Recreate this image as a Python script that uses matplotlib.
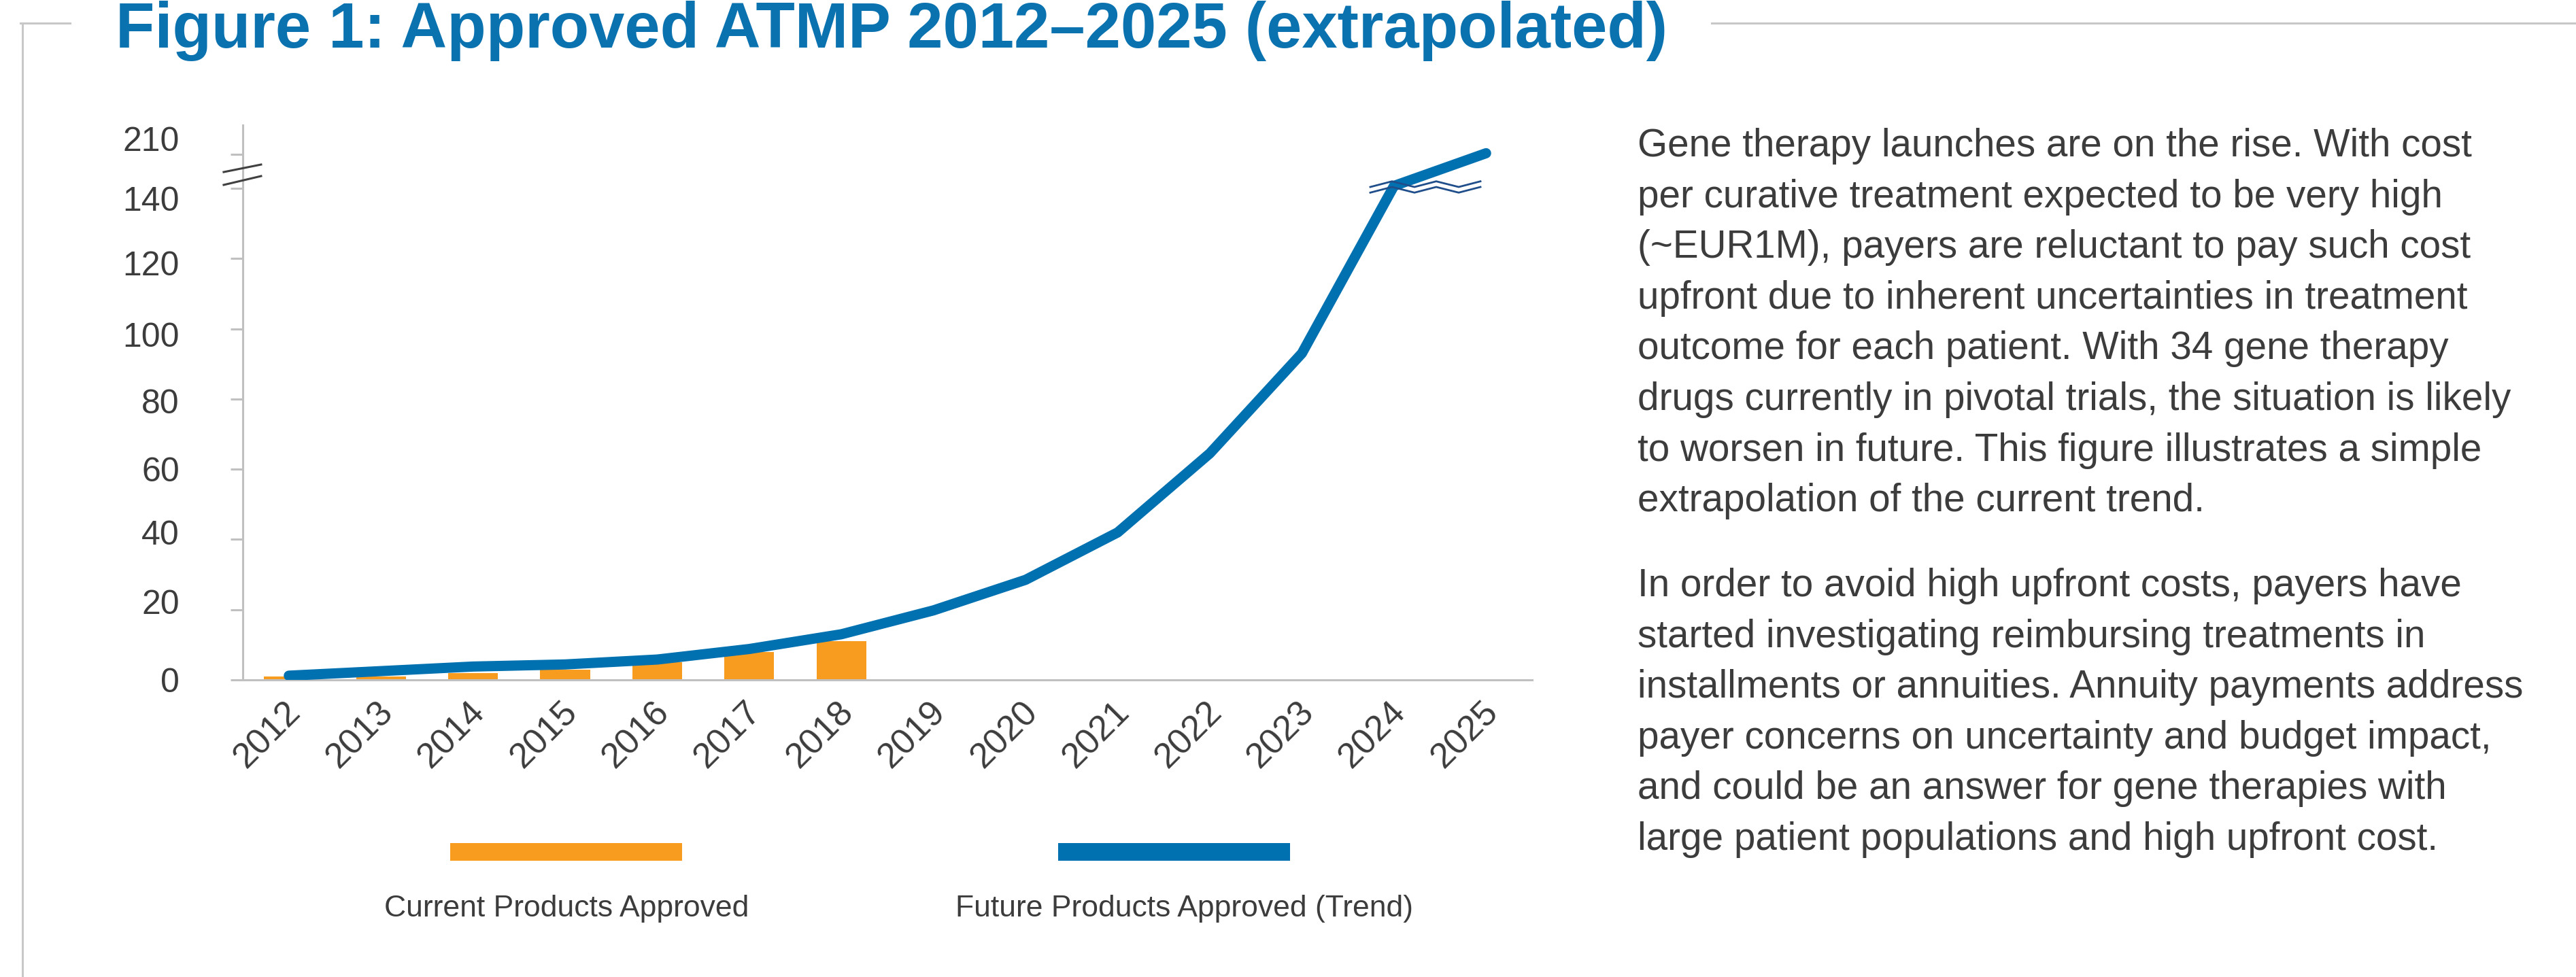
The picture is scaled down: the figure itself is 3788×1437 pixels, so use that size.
import numpy as np
import matplotlib
matplotlib.use("Agg")
import matplotlib.pyplot as plt
from matplotlib.patches import Rectangle
from matplotlib.transforms import ScaledTranslation

plt.rcParams['font.family'] = ['Liberation Sans', 'DejaVu Sans']

# data
years = ['2012', '2013', '2014', '2015', '2016', '2017', '2018',
         '2019', '2020', '2021', '2022', '2023', '2024', '2025']
current_approved = [1, 1, 2, 3, 5, 8, 11]  # 2012-2018
trend_approved = [1.2, 2.5, 3.8, 4.4, 5.8, 8.8, 13, 19.8, 28.5, 42, 64.5, 93, 145, 213]
y_ticks = [0, 20, 40, 60, 80, 100, 120, 140, 210]
series_names = ['Current Products Approved', 'Future Products Approved (Trend)']

title = 'Figure 1: Approved ATMP 2012\u20132025 (extrapolated)'
para1 = ['Gene therapy launches are on the rise. With cost',
         'per curative treatment expected to be very high',
         '(~EUR1M), payers are reluctant to pay such cost',
         'upfront due to inherent uncertainties in treatment',
         'outcome for each patient. With 34 gene therapy',
         'drugs currently in pivotal trials, the situation is likely',
         'to worsen in future. This figure illustrates a simple',
         'extrapolation of the current trend.']
para2 = ['In order to avoid high upfront costs, payers have',
         'started investigating reimbursing treatments in',
         'installments or annuities. Annuity payments address',
         'payer concerns on uncertainty and budget impact,',
         'and could be an answer for gene therapies with',
         'large patient populations and high upfront cost.']

ORANGE = '#f89c20'
BLUE = '#0071b0'
TITLE_BLUE = '#0b72b0'
GREY = '#c0c0c0'
TEXT = '#3c3c3c'

W, H = 3788, 1437
fig = plt.figure(figsize=(W / 100, H / 100), dpi=100)

# broken y axis: 140-210 squeezed into a short band
BREAK = 140
K = 0.1369


def fwd(y):
    y = np.asarray(y, dtype=float)
    return np.where(y <= BREAK, y, BREAK + (y - BREAK) * K)


def inv(y):
    y = np.asarray(y, dtype=float)
    return np.where(y <= BREAK, y, BREAK + (y - BREAK) / K)


ax = fig.add_axes([357 / W, 1 - 1000 / H, 1896 / W, 816 / H])
ax.set_yscale('function', functions=(fwd, inv))

x = np.arange(len(years))
ax.bar(x[:len(current_approved)], current_approved, width=0.54, color=ORANGE, zorder=2)
ax.plot(x, trend_approved, color=BLUE, lw=10.8, solid_capstyle='round',
        solid_joinstyle='round', zorder=3)

ax.set_xlim(-0.5, len(years) - 0.5)
ax.set_ylim(0, 271.5)
ax.set_yticks(y_ticks)
ax.set_yticklabels([str(v) for v in y_ticks])
ax.yaxis.set_minor_locator(plt.NullLocator())
ax.set_xticks(x)
ax.set_xticklabels(years, rotation=45, rotation_mode='anchor', ha='right', va='center')

for s in ['top', 'right']:
    ax.spines[s].set_visible(False)
for s in ['left', 'bottom']:
    ax.spines[s].set_color(GREY)
    ax.spines[s].set_linewidth(2.2)
ax.tick_params(axis='y', length=13, width=2.2, color=GREY, labelsize=36,
               labelcolor=TEXT, pad=54)
ax.tick_params(axis='x', length=0, labelsize=37.5, labelcolor=TEXT, pad=29)

# the source labels sit a little off their ticks (pixels, + is up)
label_nudge = [0, 12, 10, 0, -3, -8, -7, -15, 23]
for lab, dy in zip(ax.get_yticklabels(), label_nudge):
    lab.set_transform(lab.get_transform() + ScaledTranslation(0, dy / 100, fig.dpi_scale_trans))
for lab in ax.get_xticklabels():
    lab.set_transform(lab.get_transform() + ScaledTranslation(10 / 100, 0, fig.dpi_scale_trans))

# break marks on the y axis
ax.plot([-0.0148, 0.0142], [0.9154, 0.9289], transform=ax.transAxes,
        color='#404040', lw=2.2, clip_on=False, zorder=4)
ax.plot([-0.0148, 0.0142], [0.8922, 0.9081], transform=ax.transAxes,
        color='#404040', lw=2.2, clip_on=False, zorder=4)

# zigzag break across the trend line
zx = [(v - 357) / 1896 for v in [2015, 2047, 2080, 2112, 2145, 2177]]
zy_up = [(1000 - v) / 816 for v in [275, 266.7, 275, 266.7, 275, 266.7]]
zy_lo = [(1000 - v) / 816 for v in [283.3, 275, 283.3, 275, 283.3, 275]]
ax.plot(zx, zy_up, transform=ax.transAxes, color='#1f4e8a', lw=2,
        clip_on=False, zorder=5)
ax.plot(zx, zy_lo, transform=ax.transAxes, color='#1f4e8a', lw=2,
        clip_on=False, zorder=5)

# title and frame (title kept just inside the top edge)
fig.text(170 / W, 1 - 70 / H, title, color=TITLE_BLUE, fontsize=67.7,
         fontweight='bold', ha='left', va='baseline')
fig.add_artist(plt.Line2D([30 / W, 103 / W], [1 - 34 / H, 1 - 34 / H],
                          color='#c8c8c8', lw=2.2))
fig.add_artist(plt.Line2D([2517 / W, 1], [1 - 34 / H, 1 - 34 / H],
                          color='#c8c8c8', lw=2.2))
fig.add_artist(plt.Line2D([33 / W, 33 / W], [0, 1 - 34 / H],
                          color='#c8c8c8', lw=2.2))

# legend drawn below the chart
for x0, color, name, cx in [(662, ORANGE, series_names[0], 833),
                            (1556, BLUE, series_names[1], 1741)]:
    fig.add_artist(Rectangle((x0 / W, 1 - 1266 / H), 341 / W, 26 / H,
                             transform=fig.transFigure, color=color, lw=0))
    fig.text(cx / W, 1 - 1348 / H, name, color=TEXT, fontsize=32,
             ha='center', va='baseline')

# side text
for i, line in enumerate(para1):
    fig.text(2408 / W, 1 - (230 + i * 74.6) / H, line, color=TEXT,
             fontsize=40.8, ha='left', va='baseline')
for i, line in enumerate(para2):
    fig.text(2408 / W, 1 - (877 + i * 74.6) / H, line, color=TEXT,
             fontsize=40.8, ha='left', va='baseline')

fig.savefig('out.png', dpi=100, facecolor='white')
